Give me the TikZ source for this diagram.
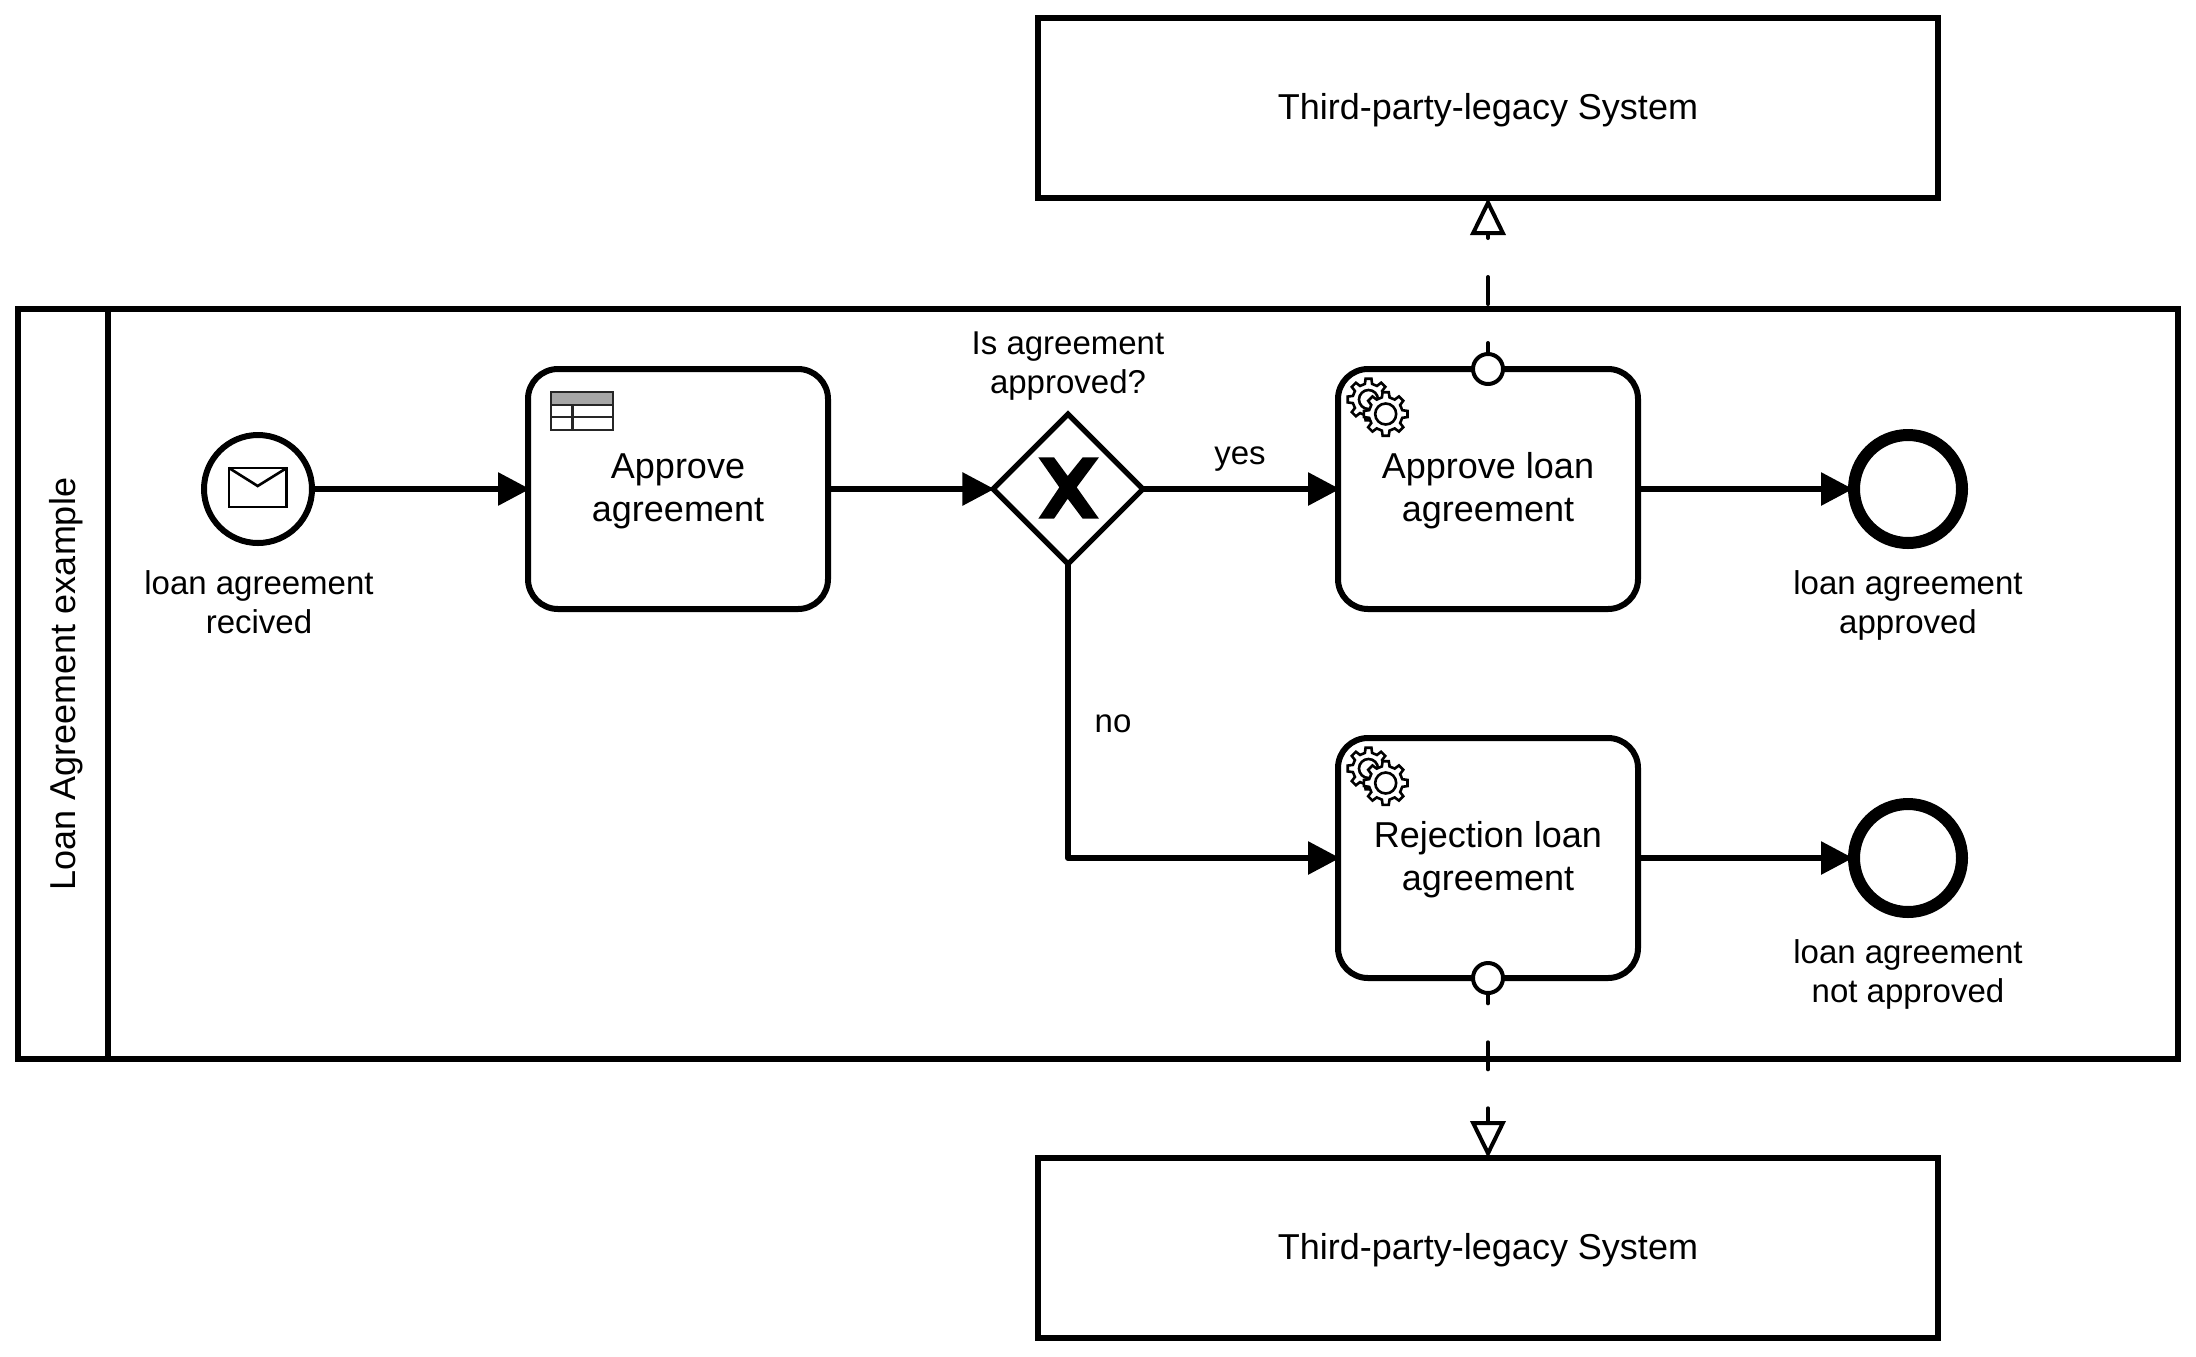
\documentclass[tikz,border=0pt]{standalone}
\usepackage{fontspec}
\setmainfont{Liberation Sans}
\usetikzlibrary{arrows.meta,shapes.geometric}
\pgfdeclarelayer{lanes}
\pgfdeclarelayer{flows}
\pgfsetlayers{lanes,flows,main}
\newcommand{\gearicon}[5]{% cx cy ro ri hole
  \begin{scope}[shift={(#1,#2)}]
    \draw[iconline,fill=white] (-13:#4)
      \foreach \a in {0,45,...,315} { -- (\a-13:#4) -- (\a-8:#3) -- (\a+8:#3) -- (\a+13:#4) } -- cycle;
    \draw[iconline,fill=white] (0,0) circle[radius=#5];
  \end{scope}}
\newcommand{\gearpair}[2]{% offset of the pair
  \begin{scope}[shift={(#1,#2)}]
    \gearicon{1368.5}{399.5}{21}{16}{9.5}
    \gearicon{1385.7}{414}{22}{17}{10.5}
  \end{scope}}
\newcommand{\lowered}[2]{\raisebox{0pt}[\dimexpr\height+#1\relax]{#2}}
\newcommand{\firstline}{\rule{0pt}{15pt}}
\tikzset{
  x=0.5pt,y=-0.5pt,
  thick line/.style={line width=3pt},
  task/.style={draw,thick line,fill=white,rounded corners=15pt,minimum width=150pt,minimum height=120pt,inner sep=0pt,align=center,font=\fontsize{18pt}{21.5pt}\selectfont},
  sysbox/.style={draw,thick line,fill=white,minimum width=450pt,minimum height=90pt,inner sep=0pt,align=center,font=\fontsize{18pt}{21.5pt}\selectfont},
  lanebox/.style={draw,thick line,inner sep=0pt},
  event/.style={circle,draw,fill=white,minimum size=54pt,inner sep=0pt},
  boundary/.style={circle,draw,fill=white,line width=2pt,minimum size=15pt,inner sep=0pt},
  lab/.style={inner sep=0pt,align=center,font=\fontsize{16.5pt}{19.5pt}\selectfont},
  flow/.style={thick line,line join=round,shorten >=-2.5pt,-{Triangle[length=16pt,width=16pt]}},
  msg/.style={line width=2pt,line cap=round,dash pattern=on 13.5pt off 19.5pt,shorten >=-1.5pt,-{Triangle[open,fill=white,length=18.5pt,width=17.5pt,line width=2pt]}},
  iconline/.style={line width=1.3pt,line join=miter},
}
\begin{document}
\begin{tikzpicture}
\useasboundingbox (0,0) rectangle (2196,1356);
% external systems
\node[sysbox] (sysA) at (1488,108) {\lowered{2pt}{Third-party-legacy System}};
\node[sysbox] (sysB) at (1488,1248) {\lowered{2pt}{Third-party-legacy System}};
% pool and lane header
\begin{pgfonlayer}{lanes}
  \node[lanebox,minimum width=1080pt,minimum height=375pt] (pool) at (1098,684) {};
  \node[lanebox,rotate=90,minimum width=375pt,minimum height=45pt,font=\fontsize{18pt}{21.5pt}\selectfont] (lane) at (63,684) {\lowered{3pt}{Loan Agreement example}};
\end{pgfonlayer}
% events
\node[event,thick line] (start) at (258,489) {};
\node[event,line width=6pt] (endA) at (1908,489) {};
\node[event,line width=6pt] (endB) at (1908,858) {};
% tasks
\node[task] (t1) at (678,489) {\firstline Approve\\agreement};
\node[task] (t2) at (1488,489) {\firstline Approve loan\\agreement};
\node[task] (t3) at (1488,858) {\firstline Rejection loan\\agreement};
% gateway
\node[diamond,draw,fill=white,line width=2.6pt,aspect=1,minimum width=76pt,minimum height=76pt,inner sep=0pt] (gw) at (1068,489) {};
\fill[black] (1038.3,457.3) -- (1054,457.3) -- (1067.7,476) -- (1082.7,457.3) -- (1099,457.3)
  -- (1076.7,487.3) -- (1099,518.7) -- (1082.7,518.7) -- (1067.7,498.7) -- (1054,518.7) -- (1038.3,518.7) -- (1059.3,487.3) -- cycle;
% boundary events
\node[boundary] (bA) at (1488,369) {};
\node[boundary] (bB) at (1488,978) {};
% labels
\node[lab] (lStart) at (259,602) {loan agreement\\recived};
\node[lab] (lEndA) at (1908,605) {loan agreement\\approved};
\node[lab] (lEndB) at (1908,974) {loan agreement\\not approved};
\node[lab] (lGw) at (1068,366) {Is agreement\\approved?};
\node[lab] (lYes) at (1240,459) {yes};
\node[lab] (lNo) at (1113,724) {no};
% flows
\coordinate (bend) at (gw.center |- t3.west);
\begin{pgfonlayer}{flows}
  \draw[flow] (start) -- (t1);
  \draw[flow] (t1) -- (gw);
  \draw[flow] (gw.center) -- (t2);
  \draw[flow] (gw.center) -- (bend) -- (t3.west);
  \draw[flow] (t2) -- (endA);
  \draw[flow] (t3) -- (endB);
  \draw[msg,dash phase=0.5pt] (bA.center) -- (sysA.south);
  \draw[msg,dash phase=0.85pt] (bB.center) -- (sysB.north);
\end{pgfonlayer}
% envelope icon
\draw[iconline,fill=white] (229,468) rectangle (286.7,507);
\draw[iconline] (229,468) -- (257.7,486) -- (286.7,468);
% table icon
\fill[black!35] (551,392) rectangle (613,404.5);
\draw[black!85,line width=1.3pt] (551,392) rectangle (613,430)
  (551,405) -- (613,405) (551,417) -- (613,417) (572.7,405) -- (572.7,430);
% gear icons
\gearpair{0}{0}
\gearpair{0}{369}
\end{tikzpicture}
\end{document}
